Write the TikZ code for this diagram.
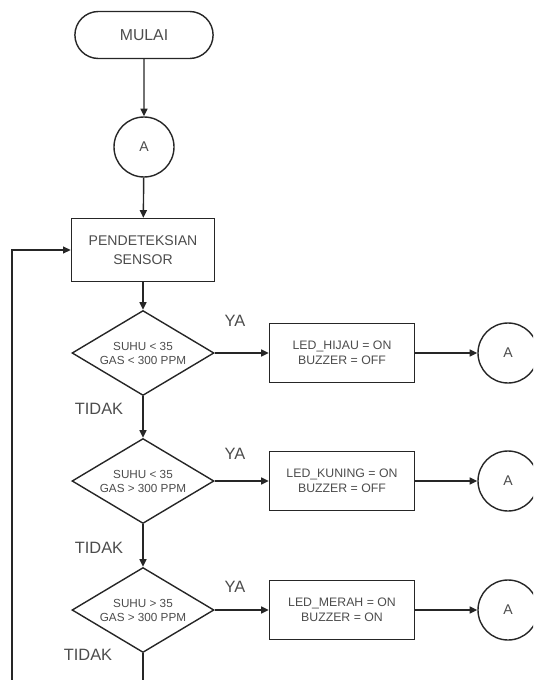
\documentclass[tikz,border=0pt]{standalone}
\usepackage{fontspec}
\setmainfont{Liberation Sans}
\usetikzlibrary{shapes.geometric,shapes.misc,arrows.meta}
\tikzset{
  terminal/.style={rounded rectangle,draw,minimum width=4.38cm,minimum height=1.41cm,font=\fontsize{13.5}{15}\selectfont},
  konektor/.style={circle,draw,minimum size=1.8cm,inner sep=0pt,font=\fontsize{12}{14}\selectfont},
  proses/.style={rectangle,draw,align=center,minimum width=4.3cm,minimum height=1.89cm,font=\fontsize{12}{16.5}\selectfont},
  aksibox/.style={rectangle,draw,align=center,minimum width=4.35cm,minimum height=1.77cm,font=\fontsize{10.5}{13}\selectfont},
  keputusan/.style={diamond,draw,align=center,aspect=1.67,inner sep=0pt,minimum width=4.26cm,minimum height=2.55cm,font=\fontsize{10}{12}\selectfont},
  ket/.style={font=\fontsize{14}{16}\selectfont}
}
\begin{document}
\begin{tikzpicture}[x=0.03cm,y=-0.03cm,line width=1.2pt,draw=black!85,text=black!70,>={Triangle[length=6.5pt,width=6pt]}]
\clip (0,0) rectangle (533,680);
\node[terminal] (mulai) at (144,35) {MULAI};
\node[konektor] (a0) at (144,147) {A};
\node[proses] (sensor) at (143,250) {PENDETEKSIAN\\SENSOR};
\draw[->] (mulai) -- (a0);
\draw[->] (a0) -- (sensor);
\foreach \i/\y/\ty/\tx/\tty/\cond/\aksi in {
  1/353/321/99/409/{SUHU < 35\\GAS < 300 PPM}/{LED\_HIJAU = ON\\BUZZER = OFF},
  2/481/454/99/548/{SUHU < 35\\GAS > 300 PPM}/{LED\_KUNING = ON\\BUZZER = OFF},
  3/610/587/88/655/{SUHU > 35\\GAS > 300 PPM}/{LED\_MERAH = ON\\BUZZER = ON}}
{
\node[keputusan] (d\i) at (143,\y) {\cond};
\node[aksibox] (aksi\i) at (342,\y) {\aksi};
\node[konektor] (a\i) at (508,\y) {A};
\draw[->] (d\i) -- (aksi\i);
\draw[->] (aksi\i) -- (a\i);
\node[ket] (ya\i) at (235,\ty) {YA};
\node[ket] (tidak\i) at (\tx,\tty) {TIDAK};
}
\draw[->] (sensor) -- (d1);
\draw[->] (d1) -- (d2);
\draw[->] (d2) -- (d3);
\coordinate (bawah) at (12,700);
\draw[->] (d3.south) |- (bawah) |- (sensor.west);
\end{tikzpicture}
\end{document}
